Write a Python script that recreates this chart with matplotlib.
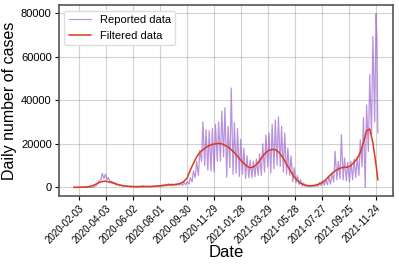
import numpy as np
import pandas as pd
import matplotlib
matplotlib.use('Agg')
import matplotlib.pyplot as plt

plt.rcParams['font.family'] = ['Liberation Sans', 'DejaVu Sans']

# Reported daily cases, read twice a week (Thursday = high day, Monday = low day)
# Thursdays from 2020-01-23, Mondays four days later
reported_thu = [
    0, 0, 10, 0, 0, 20, 100, 700, 3000, 6400,              # Jan-Mar 2020
    6000, 4500, 3000, 2300, 1500, 1200, 900, 700, 600, 500,
    500, 600, 800, 500, 450, 550, 750, 900, 1100, 1400,
    1700, 1600, 1400, 1800, 2000, 2400, 2600, 4500, 7500, 12000,
    17000, 30000, 26500, 26000, 27000, 29000, 30000, 35000, 36500, 28000,
    45600, 29700, 27000, 22000, 18000, 14500, 12500, 12000, 13000, 15500,
    20000, 24000, 25000, 29000, 31000, 32300, 28000, 25000, 18000, 14500,
    9000, 5500, 3500, 2000, 1200, 900, 1000, 1500, 2200, 3000,
    3500, 5000, 6500, 16500, 12000, 24200, 13500, 11500, 12000, 13000,
    14000, 21800, 32000, 37900, 51700, 69300, 79700,
]
reported_mon = [
    0, 0, 0, 0, 0, 30, 300, 1500, 3500, 4000,
    3500, 2000, 1800, 1000, 700, 600, 400, 300, 250, 250,
    250, 500, 300, 250, 250, 300, 400, 500, 600, 700,
    800, 700, 800, 900, 900, 1100, 1500, 2500, 4500, 5500,
    12000, 10000, 8000, 7500, 7000, 12000, 12000, 14000, 4600, 9000,
    6000, 6500, 5000, 6000, 4000, 4500, 4500, 5000, 5500, 5500,
    7000, 9500, 6500, 8500, 10000, 9500, 7000, 6000, 5500, 2500,
    2000, 1200, 600, 400, 300, 300, 400, 500, 800, 900,
    1200, 1500, 2500, 3500, 4000, 3500, 3000, 2500, 3500, 4500,
    5500, 9500, 0, 16500, 24200, 30000, 25000,
]
reported_extra_dates = ['2021-11-27']
reported_extra = [68600]

# Filtered curve, read once a week (Thursdays) plus the last day
filtered_thu = [
    0, 0, 50, 100, 200, 400, 800, 1500, 2200, 2700,
    2800, 2600, 2200, 1700, 1300, 900, 650, 500, 400, 350,
    330, 330, 350, 380, 400, 450, 550, 650, 800, 950,
    1100, 1200, 1300, 1500, 1900, 2800, 4300, 8000, 11000, 14000,
    16000, 17300, 18300, 19200, 19700, 20000, 20200, 20000, 19300, 18500,
    17300, 16000, 14300, 12500, 11000, 9700, 9000, 9300, 10500, 12200,
    14300, 16000, 17000, 17400, 17300, 16300, 14500, 12200, 9500, 7000,
    4800, 3200, 2000, 1200, 800, 700, 800, 1000, 1600, 2300,
    3500, 5000, 6400, 7600, 8400, 9000, 9200, 9300, 10000, 11500,
    13200, 16000, 20500, 26000, 26800, 20500, 10500,
]
filtered_extra_dates = ['2021-11-29']
filtered_extra = [3500]

thursdays = pd.date_range('2020-01-23', periods=len(reported_thu), freq='7D')
mondays = thursdays + pd.Timedelta(days=4)

reported = pd.concat([
    pd.Series(reported_thu, index=thursdays),
    pd.Series(reported_mon, index=mondays),
    pd.Series(reported_extra, index=pd.to_datetime(reported_extra_dates)),
]).sort_index()

filtered = pd.concat([
    pd.Series(filtered_thu, index=thursdays),
    pd.Series(filtered_extra, index=pd.to_datetime(filtered_extra_dates)),
]).sort_index()

tick_dates = pd.date_range('2020-02-03', periods=12, freq='60D')
y_ticks = [0, 20000, 40000, 60000, 80000]

fig = plt.figure(figsize=(3.99, 2.66), dpi=100)
ax = fig.add_axes([0.147, 0.263, 0.838, 0.718])

ax.plot(reported.index, reported.values, color='#9457cc', alpha=0.65, lw=0.9,
        label='Reported data')
ax.plot(filtered.index, filtered.values, color='#de3a16', lw=1.1,
        label='Filtered data')

ax.set_xticks(tick_dates)
ax.set_xticklabels([d.strftime('%Y-%m-%d') for d in tick_dates],
                   rotation=45, ha='right', rotation_mode='anchor', fontsize=7)
ax.set_yticks(y_ticks)
ax.tick_params(axis='y', labelsize=8, length=3, pad=2)
ax.tick_params(axis='x', length=3, pad=2)

ax.grid(True, color='gray', alpha=0.35, lw=0.8)
for sp in ax.spines.values():
    sp.set_color('#555555')
    sp.set_linewidth(1.2)

ax.set_xlabel('Date', fontsize=12, labelpad=0)
ax.set_ylabel('Daily number of cases', fontsize=11.5, labelpad=3)
ax.legend(loc='upper left', fontsize=8, framealpha=1, edgecolor='#dddddd',
          borderpad=0.4, handlelength=2.0)

plt.savefig('out.png', dpi=100)
plt.close()
